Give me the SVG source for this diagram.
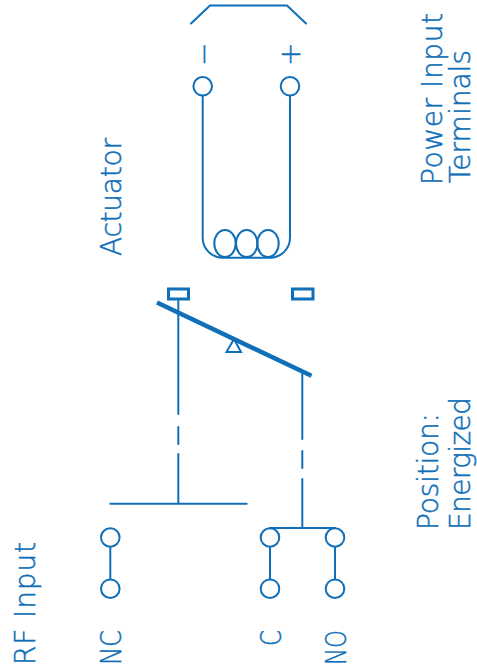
<svg xmlns="http://www.w3.org/2000/svg" width="477" height="672" viewBox="0 0 477 672">
<style>
.l{fill:none;stroke:#0f6fb8;stroke-width:2;stroke-linecap:round}
.c{fill:#fff;stroke:#0f6fb8;stroke-width:2}
.t{font-family:"DejaVu Sans ExtraLight","DejaVu Sans",sans-serif;font-weight:200;font-size:28px;fill:#0f6fb8;stroke:#0f6fb8;stroke-width:.5px}
</style>
<rect width="477" height="672" fill="#fff"/>
<g id="connectors">
<path class="l" d="M202.7 96V237.7A20 20 0 0 0 222.7 257.700H270A20 20 0 0 0 290 237.700V96"/>
<path class="l" d="M178.300 300V414M178.300 427V444M178.300 454V503.700M110.300 503.700H246.700"/>
<path class="l" d="M302.300 372V439M302.300 451V468M302.300 479V528M270 528H335"/>
<path class="l" d="M110.300 547V579M270 547V579M335 547V579"/>
</g>
<g id="power-plug"><path class="l" d="M191 23.500L210 5.500H287L306 23.500"/></g>
<g id="power-minus"><circle class="c" cx="202.700" cy="86.300" r="9.300"/><text class="t" transform="translate(212.500,66) rotate(-90)">−</text></g>
<g id="power-plus"><circle class="c" cx="290" cy="86.300" r="9.300"/><text class="t" transform="translate(299.500,66) rotate(-90)">+</text></g>
<g id="coil"><ellipse class="l" cx="225" cy="243.500" rx="10.700" ry="13.500"/><ellipse class="l" cx="246.700" cy="243.500" rx="10.700" ry="13.500"/><ellipse class="l" cx="268" cy="243.500" rx="10.700" ry="13.500"/></g>
<g id="contacts"><rect x="168.500" y="289" width="20" height="10" fill="none" stroke="#0f6fb8" stroke-width="3"/><rect x="292.500" y="289" width="20.500" height="10" fill="none" stroke="#0f6fb8" stroke-width="3"/></g>
<g id="lever"><path d="M157 302.500L311.500 375.700" fill="none" stroke="#0f6fb8" stroke-width="4.500"/><path class="l" d="M234 339L241 352H226.500Z"/></g>
<g id="nc"><circle class="c" cx="110.300" cy="537.500" r="9.300"/><circle class="c" cx="110.300" cy="588.700" r="9.300"/></g>
<g id="c"><circle class="c" cx="270" cy="537.500" r="9.300"/><circle class="c" cx="270" cy="588.700" r="9.300"/></g>
<g id="no"><circle class="c" cx="335" cy="537.500" r="9.300"/><circle class="c" cx="335" cy="588.700" r="9.300"/></g>
<g id="labels">
<text class="t" transform="translate(121,256) rotate(-90)" textLength="118">Actuator</text>
<text class="t" transform="translate(442,185) rotate(-90)" textLength="172">Power Input</text>
<text class="t" transform="translate(470.300,183) rotate(-90)" textLength="133">Terminals</text>
<text class="t" transform="translate(438,530) rotate(-90)" textLength="117">Position:</text>
<text class="t" transform="translate(470.300,530) rotate(-90)" textLength="133">Energized</text>
<text class="t" transform="translate(35,665) rotate(-90)" textLength="123">RF Input</text>
<text class="t" transform="translate(121,665) rotate(-90)" textLength="35" lengthAdjust="spacingAndGlyphs">NC</text>
<text class="t" transform="translate(281,646) rotate(-90)" textLength="16" lengthAdjust="spacingAndGlyphs">C</text>
<text class="t" transform="translate(346,665) rotate(-90)" textLength="35" lengthAdjust="spacingAndGlyphs">NO</text>
</g>
</svg>
